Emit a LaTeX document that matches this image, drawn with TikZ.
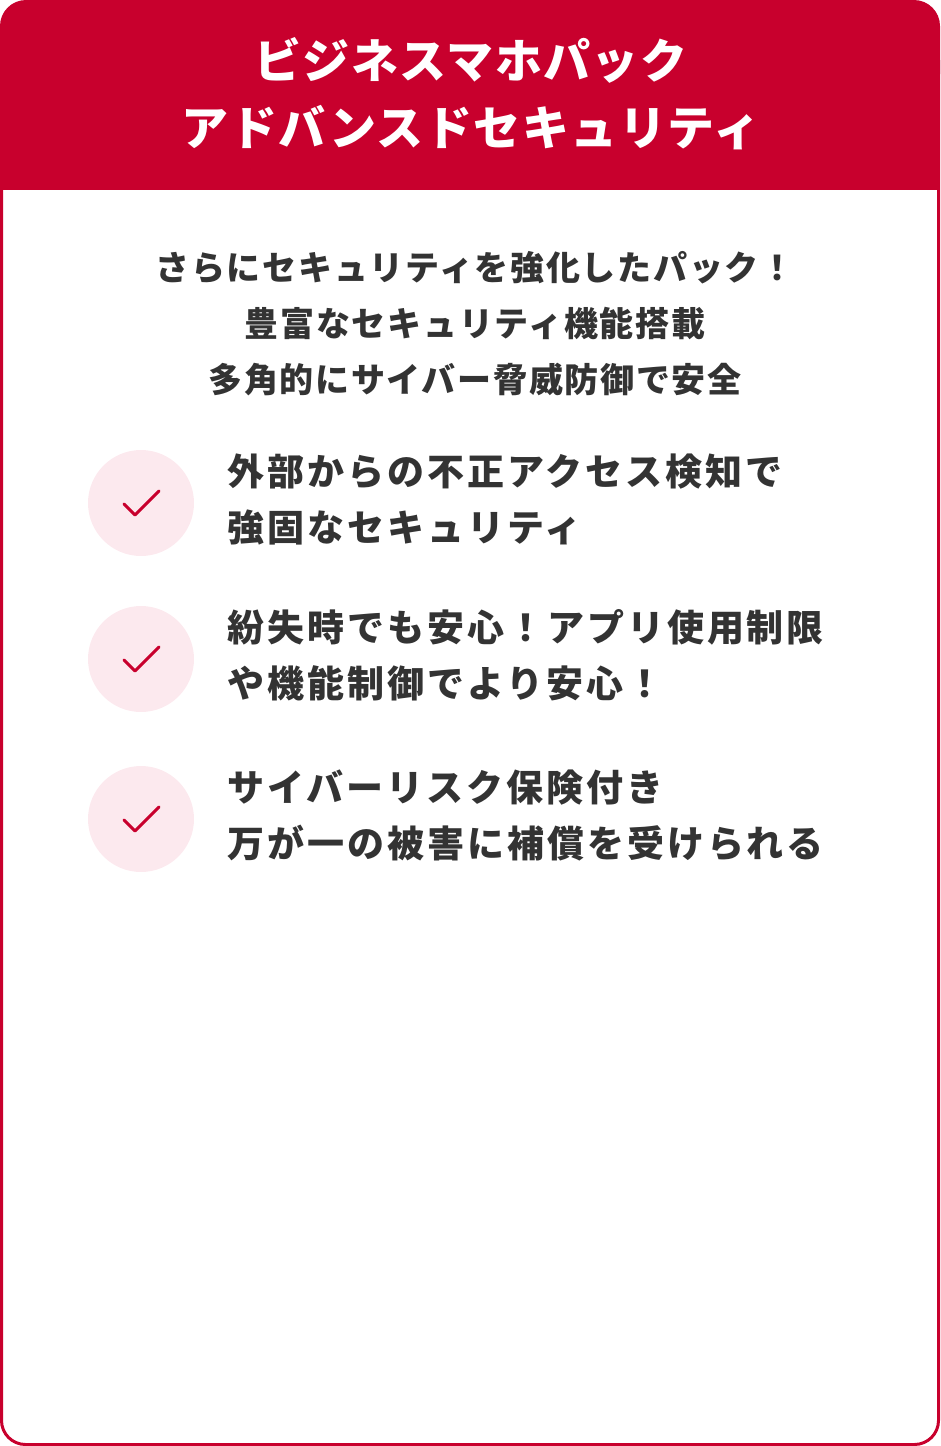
\documentclass[tikz,border=0pt]{standalone}
\usepackage{fontspec}
\newfontfamily\cjkA[LetterSpace=3]{Noto Sans CJK JP}
\newfontfamily\cjkB[LetterSpace=5]{Noto Sans CJK JP}
\newfontfamily\cjkC[LetterSpace=8]{Noto Sans CJK JP}
\definecolor{brand}{HTML}{C8002D}
\definecolor{txt}{HTML}{333333}
\definecolor{pink}{HTML}{FCE9EE}
\begin{document}
\begin{tikzpicture}[x=1pt,y=-1pt,
  ttl/.style={text=white,font=\cjkA\bfseries\fontsize{47}{52}\selectfont,anchor=center},
  body/.style={text=txt,font=\cjkB\bfseries\fontsize{34}{40}\selectfont,anchor=center},
  item/.style={text=txt,font=\cjkC\bfseries\fontsize{37}{42}\selectfont,anchor=west},
  ckc/.style={circle,fill=pink,minimum size=106pt,inner sep=0pt},
  ck/.style={draw=brand,line width=3pt,line cap=round,line join=round}]
\useasboundingbox (0,0) rectangle (940,1446);
\fill[brand,rounded corners=26pt] (0,0) rectangle (940,100);
\fill[brand] (0,60) rectangle (940,190);
\draw[brand,line width=3pt,rounded corners=24pt] (1.5,60) -- (1.5,1444.5) -- (938.5,1444.5) -- (938.5,60);
\draw[brand,line width=3pt] (1.5,60) -- (1.5,190) (938.5,60)--(938.5,190);
\node[ttl] (t1) at (471,60) {ビジネスマホパック};
\node[ttl] (t2) at (471,128) {アドバンスドセキュリティ};
\node[body] (b1) at (475,268) {さらにセキュリティを強化したパック！};
\node[body] (b2) at (475,324) {豊富なセキュリティ機能搭載};
\node[body] (b3) at (475,380) {多角的にサイバー脅威防御で安全};
\foreach \y/\n in {503/c1,659/c2,819/c3}{
  \node[ckc] (\n) at (141,\y) {};
  \draw[ck] ([shift={(-17,1)}]\n.center) -- ([shift={(-6,12)}]\n.center) -- ([shift={(18,-12)}]\n.center);
}
\node[item] (i1a) at (224,472) {外部からの不正アクセス検知で};
\node[item] (i1b) at (224,527) {強固なセキュリティ};
\node[item] (i2a) at (224,627) {紛失時でも安心！アプリ使用制限};
\node[item] (i2b) at (224,683) {や機能制御でより安心！};
\node[item] (i3a) at (224,788) {サイバーリスク保険付き};
\node[item] (i3b) at (224,843) {万が一の被害に補償を受けられる};
\end{tikzpicture}
\end{document}
